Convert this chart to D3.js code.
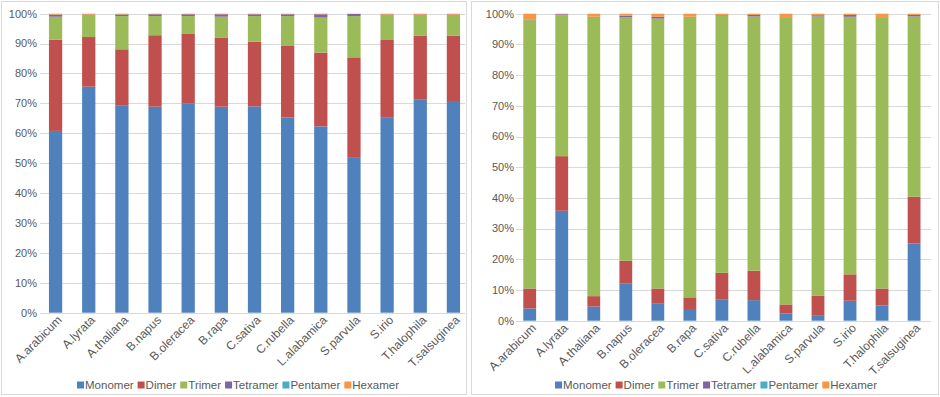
<!DOCTYPE html>
<html>
<head>
<meta charset="utf-8">
<script src="https://cdn.jsdelivr.net/npm/d3@7"></script>
<style>
    body { margin: 0; background: #fff; }
    svg text { font-family: "Liberation Sans", Arial, sans-serif; fill: #595959; }
</style>
</head>
<body>
<div id="chart"></div>
<script>
// categories + series
const categories = ["A.arabicum", "A.lyrata", "A.thaliana", "B.napus", "B.oleracea", "B.rapa", "C.sativa",
    "C.rubella", "L.alabamica", "S.parvula", "S.irio", "T.halophila", "T.salsuginea"];
const seriesNames = ["Monomer", "Dimer", "Trimer", "Tetramer", "Pentamer", "Hexamer"];
const seriesColors = ["#4F81BD", "#C0504D", "#9BBB59", "#8064A2", "#4BACC6", "#F79646"];
const yTicks = [0, 0.1, 0.2, 0.3, 0.4, 0.5, 0.6, 0.7, 0.8, 0.9, 1];

// left chart (percent of each species)
const leftMonomer  = [60.8, 75.6, 69.4, 68.9, 69.9, 68.9, 69.0, 65.3, 62.3, 51.8, 65.2, 71.4, 70.8];
const leftDimer    = [30.5, 16.6, 18.7, 23.9, 23.5, 23.0, 21.6, 23.9, 24.7, 33.6, 26.0, 21.3, 21.9];
const leftTrimer   = [7.7, 7.4, 11.1, 6.4, 5.8, 7.1, 8.6, 10.0, 11.7, 13.8, 8.4, 6.9, 6.9];
const leftTetramer = [0.6, 0.1, 0.5, 0.6, 0.6, 0.8, 0.6, 0.6, 1.1, 0.7, 0.1, 0.1, 0.1];
const leftPentamer = [0.1, 0, 0.05, 0, 0, 0, 0, 0, 0, 0, 0, 0, 0];
const leftHexamer  = [0.3, 0.3, 0.25, 0.2, 0.2, 0.2, 0.2, 0.2, 0.2, 0.1, 0.3, 0.3, 0.3];

// right chart
const rightMonomer  = [4.0, 35.8, 4.6, 12.2, 5.7, 3.5, 7.0, 6.7, 2.3, 1.8, 6.5, 5.0, 25.2];
const rightDimer    = [6.5, 17.8, 3.4, 7.3, 4.8, 4.1, 8.6, 9.6, 3.0, 6.4, 8.6, 5.5, 15.2];
const rightTrimer   = [87.4, 45.9, 91.0, 79.3, 87.9, 91.4, 83.7, 82.8, 93.6, 90.9, 83.9, 88.4, 58.7];
const rightTetramer = [0.1, 0.3, 0, 0.6, 0.6, 0, 0, 0.5, 0, 0.4, 0.6, 0, 0.5];
const rightPentamer = [0, 0, 0, 0, 0, 0, 0.3, 0, 0, 0, 0, 0, 0];
const rightHexamer  = [2.0, 0.2, 1.0, 0.6, 1.0, 1.0, 0.4, 0.4, 1.1, 0.5, 0.4, 1.1, 0.4];


class StackedVis {

    constructor(svg, series, layout){
        this.svg = svg;
        this.series = series;
        this.layout = layout;

        this.initVis();
    }

    initVis(){
        let vis = this;
        let L = vis.layout;

        vis.g = vis.svg.append("g").attr("class", "panel");

        // panel frame
        vis.g.append("rect")
            .attr("x", L.frame[0] + 0.5)
            .attr("y", 1.5)
            .attr("width", L.frame[1] - L.frame[0])
            .attr("height", 393)
            .attr("fill", "#fff")
            .attr("stroke", "#D9D9D9");

        // scales
        vis.xscale = d3.scalePoint()
            .domain(categories)
            .range(L.xRange)
            .padding(0.5);

        vis.yscale = d3.scaleLinear()
            .domain([0, 1])
            .range(L.yRange);

        // gridlines + y labels
        vis.g.selectAll(".grid")
            .data(yTicks)
            .enter().append("line")
            .attr("class", "grid")
            .attr("x1", L.grid[0])
            .attr("x2", L.grid[1])
            .attr("y1", d => Math.round(vis.yscale(d)) + 0.5)
            .attr("y2", d => Math.round(vis.yscale(d)) + 0.5)
            .attr("stroke", "#D9D9D9")
            .attr("stroke-width", 1);

        vis.g.selectAll(".ylab")
            .data(yTicks)
            .enter().append("text")
            .attr("class", "ylab")
            .attr("x", L.labelX)
            .attr("y", d => vis.yscale(d))
            .attr("dy", "0.35em")
            .attr("text-anchor", "end")
            .attr("font-size", 11)
            .text(d => d3.format(".0%")(d));

        vis.wrangleData();
    }

    wrangleData(){
        let vis = this;

        vis.rows = categories.map((c, i) => {
            let row = {category: c};
            seriesNames.forEach((s, j) => row[s] = vis.series[j][i]);
            return row;
        });

        // 100% stacked
        vis.stacked = d3.stack()
            .keys(seriesNames)
            .offset(d3.stackOffsetExpand)(vis.rows);

        vis.updateVis();
    }

    updateVis(){
        let vis = this;
        let L = vis.layout;
        let bw = vis.xscale.step() * 0.4;

        vis.g.selectAll(".layer")
            .data(vis.stacked)
            .enter().append("g")
            .attr("class", "layer")
            .attr("fill", (d, i) => seriesColors[i])
            .selectAll("rect")
            .data(d => d)
            .enter().append("rect")
            .attr("x", d => vis.xscale(d.data.category) - bw / 2)
            .attr("y", d => vis.yscale(d[1]))
            .attr("width", bw)
            .attr("height", d => Math.max(0, vis.yscale(d[0]) - vis.yscale(d[1])));

        // category labels, rotated
        vis.g.selectAll(".xlab")
            .data(categories)
            .enter().append("text")
            .attr("class", "xlab")
            .attr("text-anchor", "end")
            .attr("font-size", 12)
            .attr("transform", d => `translate(${vis.xscale(d) + 7}, ${L.yRange[0] + 8}) rotate(-45)`)
            .text(d => d);

        // legend
        let legend = vis.g.append("g").attr("class", "legend");
        let xpos = 0;
        seriesNames.forEach((s, i) => {
            legend.append("rect")
                .attr("x", xpos)
                .attr("y", -3.5)
                .attr("width", 7)
                .attr("height", 7)
                .attr("fill", seriesColors[i]);
            let t = legend.append("text")
                .attr("x", xpos + 8)
                .attr("y", 0)
                .attr("dy", "0.35em")
                .attr("font-size", 11.5)
                .text(s);
            xpos += 8 + t.node().getComputedTextLength() + 4;
        });
        xpos -= 4;
        legend.attr("transform", `translate(${L.legendCenter - xpos / 2}, 385)`);
    }
}

let svg = d3.select("#chart").append("svg")
    .attr("width", 940)
    .attr("height", 397);

new StackedVis(svg,
    [leftMonomer, leftDimer, leftTrimer, leftTetramer, leftPentamer, leftHexamer],
    {frame: [1, 466], xRange: [39, 470], yRange: [312.7, 13.7], grid: [40, 465], labelX: 37, legendCenter: 238});

new StackedVis(svg,
    [rightMonomer, rightDimer, rightTrimer, rightTetramer, rightPentamer, rightHexamer],
    {frame: [471, 938], xRange: [513.7, 930.1], yRange: [320.7, 13.7], grid: [516, 931], labelX: 514, legendCenter: 716});
</script>
</body>
</html>
